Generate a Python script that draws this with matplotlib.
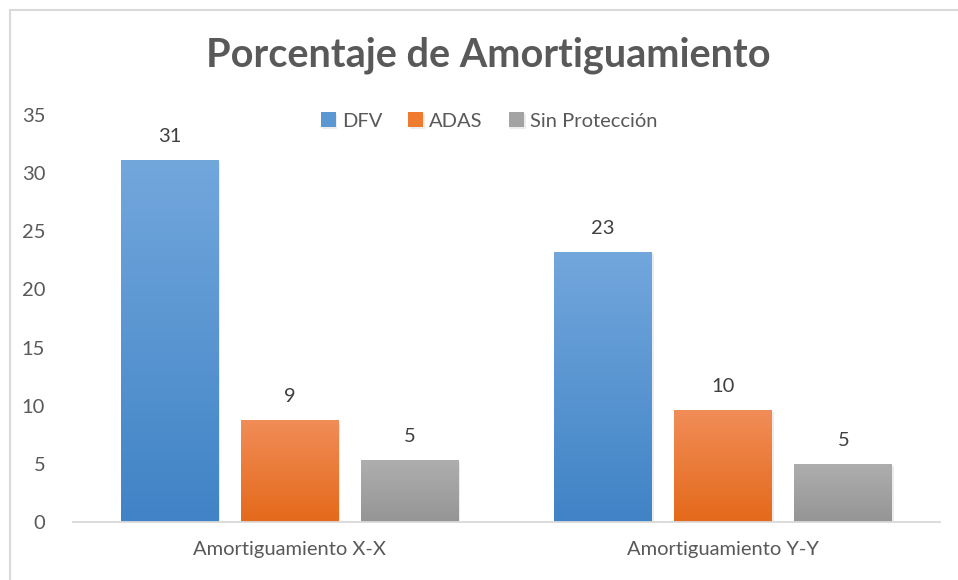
import numpy as np
import matplotlib.pyplot as plt
from matplotlib.colors import LinearSegmentedColormap
from matplotlib.patches import Rectangle
import matplotlib.patheffects as pe

plt.rcParams['font.family'] = ['Lato', 'DejaVu Sans']

categories = ['Amortiguamiento X-X', 'Amortiguamiento Y-Y']
series = ['DFV', 'ADAS', 'Sin Protección']
dfv = [31.1, 23.2]
adas = [8.8, 9.6]
sin_proteccion = [5.3, 5.0]

# top / bottom colours of each series gradient
tops = ['#72a7dc', '#f18d58', '#aeaeae']
bottoms = ['#4083c6', '#e4691a', '#959595']
mids = ['#5b97d3', '#ef7b2f', '#a3a3a3']

fig = plt.figure(figsize=(9.58, 5.8), dpi=100)
ax = fig.add_axes([73 / 958, 1 - 522 / 580, 867 / 958, 407 / 580])

x = np.arange(len(categories))
width = 0.226
step = 0.277

for i, (vals, name) in enumerate(zip([dfv, adas, sin_proteccion], series)):
    bars = ax.bar(x + (i - 1) * step, vals, width, color=mids[i], label=name, zorder=2)
    cmap = LinearSegmentedColormap.from_list(name, [bottoms[i], tops[i]])
    grad = np.linspace(0, 1, 256).reshape(-1, 1)
    for b, v in zip(bars, vals):
        b.set_path_effects([pe.SimplePatchShadow(offset=(1, -1.5), alpha=0.15, shadow_rgbFace='#808080'), pe.Normal()])
        im = ax.imshow(grad, cmap=cmap, origin='lower', aspect='auto', zorder=3,
                       extent=[b.get_x(), b.get_x() + b.get_width(), 0, v])
        im.set_clip_path(b)
        ax.text(b.get_x() + b.get_width() / 2, v + 1.3, f'{v:.0f}', ha='center', va='bottom',
                fontsize=14.5, color='#404040')

ax.set_xlim(-0.5, 1.5)
ax.set_ylim(0, 35)
ax.set_yticks(range(0, 36, 5))
ax.set_xticks(x)
ax.set_xticklabels(categories)
ax.tick_params(length=0, labelsize=14.5, labelcolor='#595959')
ax.tick_params(axis='x', pad=14)
ax.tick_params(axis='y', pad=20)
for s in ['top', 'right', 'left']:
    ax.spines[s].set_visible(False)
ax.spines['bottom'].set_color('#d9d9d9')
ax.spines['bottom'].set_linewidth(1.3)
ax.spines['bottom'].set_zorder(4)

fig.text(0.51, 1 - 55 / 580, 'Porcentaje de Amortiguamiento', ha='center', va='center',
         fontsize=28.5, fontweight='bold', color='#595959')

leg = ax.legend(loc='center', bbox_to_anchor=(0.48, 1 - 6 / 407), ncol=3, frameon=False,
                fontsize=14.5, handlelength=0.75, handleheight=0.75, handletextpad=0.3,
                columnspacing=1.3, labelcolor='#595959')

fig.patches.append(Rectangle((10 / 958, -0.1), 1.2, 1 - 10 / 580 + 0.1, transform=fig.transFigure,
                             fill=False, edgecolor='#d9d9d9', linewidth=1.5))

fig.savefig('out.png', dpi=100)
